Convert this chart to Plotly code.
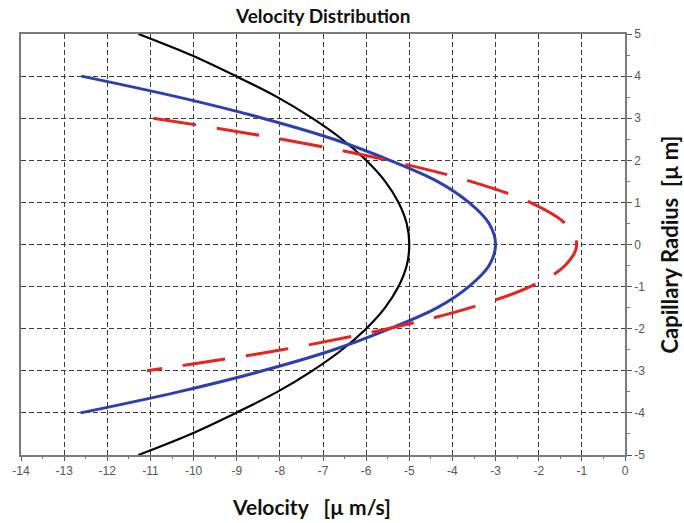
import plotly.graph_objects as go

# Capillary radius positions (µm) and velocities (µm/s) for each profile
radius_black = [5, 4.5, 4, 3.5, 3, 2.5, 2, 1.5, 1, 0.5, 0,
                -0.5, -1, -1.5, -2, -2.5, -3, -3.5, -4, -4.5, -5]
velocity_black = [-11.28, -10.06, -9.02, -8.06, -7.25, -6.56, -6.0, -5.56, -5.25, -5.06, -5.0,
                  -5.06, -5.25, -5.56, -6.0, -6.56, -7.25, -8.06, -9.02, -10.06, -11.28]

radius_blue = [4, 3.5, 3, 2.5, 2, 1.5, 1, 0.5, 0,
               -0.5, -1, -1.5, -2, -2.5, -3, -3.5, -4]
velocity_blue = [-12.6, -10.35, -8.4, -6.75, -5.45, -4.35, -3.62, -3.15, -3.0,
                 -3.15, -3.62, -4.35, -5.45, -6.75, -8.4, -10.35, -12.62]

radius_red = [3, 2.5, 2, 1.5, 1, 0.5, 0,
              -0.5, -1, -1.5, -2, -2.5, -3]
velocity_red = [-10.93, -7.95, -5.5, -3.58, -2.2, -1.39, -1.12,
                -1.39, -2.2, -3.58, -5.5, -7.95, -11.08]

x_ticks = list(range(-14, 1))
y_ticks = list(range(-5, 6))

fig = go.Figure()

fig.add_trace(go.Scatter(
    x=velocity_black, y=radius_black, mode="lines",
    line=dict(color="#000000", width=2.2, shape="spline"),
    showlegend=False,
))
fig.add_trace(go.Scatter(
    x=velocity_blue, y=radius_blue, mode="lines",
    line=dict(color="#2b3fae", width=3, shape="spline"),
    showlegend=False,
))
fig.add_trace(go.Scatter(
    x=velocity_red, y=radius_red, mode="lines",
    line=dict(color="#e8221e", width=3, shape="spline", dash="43px,21px"),
    showlegend=False,
))

tick_font = dict(family="Liberation Sans, Arial, sans-serif", size=12, color="#555555")
title_family = "Lato, Open Sans, sans-serif"

fig.update_layout(
    width=684, height=523,
    margin=dict(l=18, r=59, t=34, b=68),
    paper_bgcolor="white", plot_bgcolor="white",
    xaxis=dict(
        range=[-14, 0], tickvals=x_ticks, ticktext=[str(v) for v in x_ticks],
        showgrid=True, gridcolor="#3a3a3a", gridwidth=1, griddash="5px,3px",
        zeroline=False, showline=True, linecolor="#7a7a7a", linewidth=1.5, mirror=True,
        ticks="outside", ticklen=4, tickcolor="#555555", tickfont=tick_font,
        minor=dict(dtick=0.5, ticks="outside", ticklen=2, tickcolor="#777777",
                   showgrid=False),
    ),
    yaxis=dict(
        range=[-5, 5], side="right", tickvals=y_ticks, ticktext=[str(v) for v in y_ticks],
        showgrid=True, gridcolor="#3a3a3a", gridwidth=1, griddash="5px,3px",
        zeroline=False, showline=True, linecolor="#7a7a7a", linewidth=1.5, mirror=True,
        ticks="outside", ticklen=5, tickcolor="#555555", tickfont=tick_font,
        minor=dict(dtick=0.5, ticks="outside", ticklen=3, tickcolor="#777777",
                   showgrid=False),
    ),
    annotations=[
        dict(text="<b>Velocity Distribution</b>", xref="paper", yref="paper",
             x=0.5, y=1, yshift=19, xanchor="center", yanchor="middle", showarrow=False,
             font=dict(family=title_family, size=19, color="#111111")),
        dict(text="<b>Velocity   [\u00b5 m/s]</b>", xref="paper", yref="paper",
             x=0.481, y=0, yshift=-51, xanchor="center", yanchor="middle", showarrow=False,
             font=dict(family=title_family, size=21, color="#111111")),
        dict(text="<b>Capillary Radius  [\u00b5 m]</b>", xref="paper", yref="paper",
             x=1, xshift=44, y=0.5, xanchor="center", yanchor="middle", showarrow=False,
             textangle=-90,
             font=dict(family=title_family, size=22, color="#111111")),
    ],
)

fig.write_html("out.html")
